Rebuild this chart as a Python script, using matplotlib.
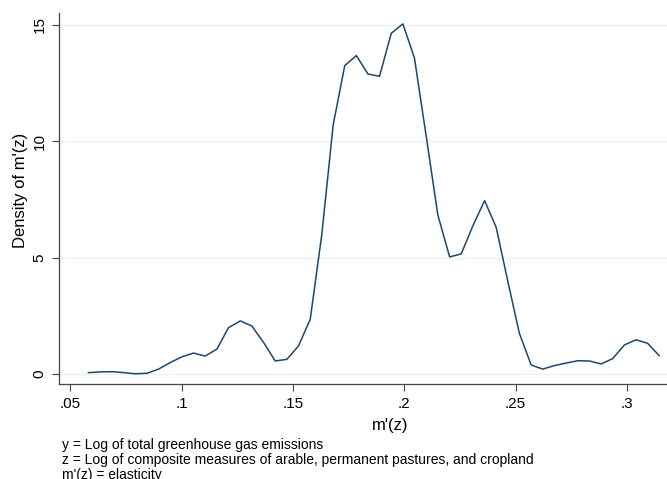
import matplotlib
matplotlib.use('Agg')
import matplotlib.pyplot as plt

plt.rcParams['font.family'] = 'Liberation Sans'

# kernel density estimate of m'(z)
mz = [0.0582, 0.0635, 0.0687, 0.0740, 0.0792, 0.0845, 0.0897, 0.0949, 0.1002, 0.1054,
      0.1106, 0.1159, 0.1211, 0.1264, 0.1316, 0.1368, 0.1421, 0.1473, 0.1525, 0.1578,
      0.1630, 0.1681, 0.1733, 0.1785, 0.1837, 0.1889, 0.1942, 0.1994, 0.2046, 0.2099,
      0.2151, 0.2204, 0.2256, 0.2308, 0.2361, 0.2413, 0.2466, 0.2517, 0.2570, 0.2622,
      0.2674, 0.2727, 0.2779, 0.2832, 0.2884, 0.2936, 0.2989, 0.3041, 0.3093, 0.3145]
density = [0.06, 0.09, 0.10, 0.06, 0.01, 0.03, 0.21, 0.49, 0.74, 0.90,
           0.77, 1.07, 1.99, 2.28, 2.06, 1.36, 0.56, 0.63, 1.20, 2.35,
           6.00, 10.70, 13.25, 13.68, 12.89, 12.79, 14.64, 15.04, 13.57, 10.20,
           6.83, 5.03, 5.16, 6.36, 7.45, 6.30, 3.95, 1.75, 0.39, 0.21,
           0.36, 0.47, 0.57, 0.56, 0.43, 0.66, 1.25, 1.47, 1.32, 0.79]

xticks = [0.05, 0.10, 0.15, 0.20, 0.25, 0.30]
xtick_labels = ['.05', '.1', '.15', '.2', '.25', '.3']
yticks = [0, 5, 10, 15]

notes = ["y = Log of total greenhouse gas emissions",
         "z = Log of composite measures of arable, permanent pastures, and cropland",
         "m'(z) = elasticity"]

fig = plt.figure(figsize=(6.67, 4.79), dpi=100)
fig.patch.set_facecolor('white')
ax = fig.add_axes([0.0885, 0.1983, 0.9115, 0.7746])

ax.plot(mz, density, color='#1a476f', lw=1.1, zorder=3)

ax.set_xlim(0.045, 0.318)
ax.set_ylim(-0.43, 15.51)
ax.set_xticks(xticks)
ax.set_xticklabels(xtick_labels)
ax.set_yticks(yticks)
ax.set_yticklabels([str(v) for v in yticks], rotation=90, va='center')

ax.grid(axis='y', color='#eaf2f3', lw=1.0, zorder=1)
ax.grid(axis='x', visible=False)
for s in ['top', 'right']:
    ax.spines[s].set_visible(False)
for s in ['left', 'bottom']:
    ax.spines[s].set_color('#444444')
    ax.spines[s].set_linewidth(0.9)
ax.tick_params(axis='both', direction='out', length=5, width=0.8,
               color='#444444', labelsize=11, pad=4)

# plot region in the original graph is wider than this crop, so titles sit right of centre
ax.set_xlabel("m'(z)", fontsize=12)
ax.xaxis.set_label_coords(0.544, -0.092)
ax.set_ylabel("Density of m'(z)", fontsize=12, va='center')
ax.yaxis.set_label_coords(-0.064, 0.523)

# the third note line is clipped by the bottom edge in the reference too
for i, t in enumerate(notes):
    fig.text(62 / 667, 1 - (445 + 15 * i) / 479, t, fontsize=10,
             ha='left', va='center', color='black')

fig.savefig('out.png', dpi=100, facecolor='white')
